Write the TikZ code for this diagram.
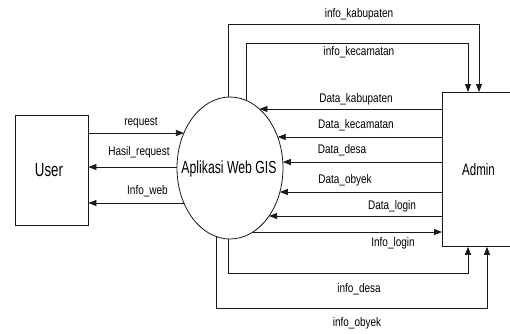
\documentclass[tikz,border=0pt]{standalone}
\usepackage{fontspec}
\setmainfont{Liberation Sans}
\newfontfamily\lblfont[FakeStretch=0.8]{Liberation Sans}
\newfontfamily\bigfont[FakeStretch=0.7]{Liberation Sans}
\usetikzlibrary{shapes.geometric,arrows.meta,intersections}

\begin{document}
\begin{tikzpicture}[x=1pt,y=-1pt,
  ent/.style={draw=black!90, line width=0.8pt, inner sep=0pt},
  flow/.style={draw=black!90, line width=0.8pt, -{Triangle[length=8pt,width=6pt]}},
  lbl/.style={font=\lblfont\fontsize{12.5}{14}\selectfont, inner sep=0pt, anchor=base},
  big/.style={font=\bigfont\fontsize{#1}{20}\selectfont, inner sep=0pt, anchor=base},
  big/.default=17.5]
\useasboundingbox (0,0) rectangle (510,333);

% external entities and the process
\node[ent, minimum width=73pt, minimum height=110pt] (user) at (51.5,170) {};
\node[big=19] at (49,176) {User};
\node[ent, ellipse, minimum width=106pt, minimum height=142pt, name path=gisb] (gis) at (230,168) {};
\node[big=17.5] at (229,173) {Aplikasi Web GIS};
\node[ent, minimum width=76pt, minimum height=154pt, anchor=north west] (admin) at (442,92) {};
\node[big=16.5] at (478.5,175) {Admin};

% points where horizontal flows meet the ellipse
\foreach \yy/\nm/\dir in {133/req/-1, 167/hasil/-1, 203/web/-1,
    109/dkab/1, 137/dkec/1, 162/ddes/1, 192/doby/1, 216/dlog/1, 232/ilog/1} {
  \path[name path=ray] (gis.center |- 0,\yy) -- ++(\dir*120,0);
  \path[name intersections={of=gisb and ray, by=\nm}];
}
% points where vertical flows leave the ellipse
\foreach \xx/\nm/\dir in {228/tkab/-1, 246/tkec/-1, 228/bdes/1, 216/boby/1} {
  \path[name path=ray] (\xx,0 |- gis.center) -- ++(0,\dir*120);
  \path[name intersections={of=gisb and ray, by=\nm}];
}

% User <-> Aplikasi Web GIS
\draw[flow] (user.east |- req) -- (req);
\draw[flow] (hasil) -- (user.east |- hasil);
\draw[flow] (web) -- (user.east |- web);
\node[lbl] at (141,125) {request};
\node[lbl] at (139,155) {Hasil\_request};
\node[lbl] at (147.5,194) {Info\_web};

% Admin -> Aplikasi Web GIS
\draw[flow] (admin.west |- dkab) -- (dkab);
\draw[flow] (admin.west |- dkec) -- (dkec);
\draw[flow] (admin.west |- ddes) -- (ddes);
\draw[flow] (admin.west |- doby) -- (doby);
\draw[flow] (admin.west |- dlog) -- (dlog);
\draw[flow] (ilog) -- (admin.west |- ilog);
\node[lbl] at (356,102) {Data\_kabupaten};
\node[lbl] at (356,128) {Data\_kecamatan};
\node[lbl] at (342,153) {Data\_desa};
\node[lbl] at (345,183) {Data\_obyek};
\node[lbl] at (392,209) {Data\_login};
\node[lbl] at (393,246) {Info\_login};

% information flows routed over and under
\draw[flow] (tkab) -- (tkab |- 0,24) -| (admin.north west -| 479,0);
\draw[flow] (tkec) -- (tkec |- 0,43) -| (admin.north west -| 468,0);
\draw[flow] (bdes) -- (bdes |- 0,273) -| (admin.south west -| 468,0);
\draw[flow] (boby) -- (boby |- 0,308) -| (admin.south west -| 487,0);
\node[lbl] at (359,17) {info\_kabupaten};
\node[lbl] at (359,55) {info\_kecamatan};
\node[lbl] at (359,292) {info\_desa};
\node[lbl] at (357,326) {info\_obyek};
\end{tikzpicture}
\end{document}
